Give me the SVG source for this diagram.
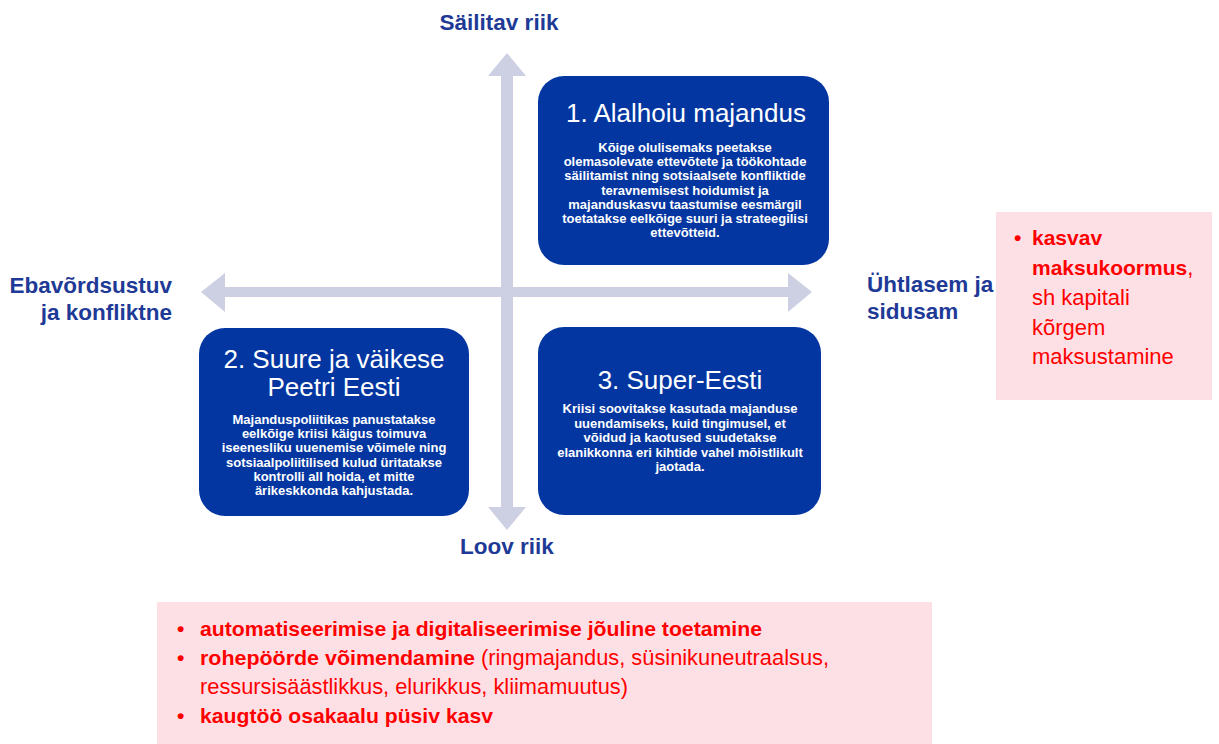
<svg xmlns="http://www.w3.org/2000/svg" width="1219" height="744" viewBox="0 0 1219 744">
<style>
.box{fill:#0336A1}
.arr{fill:#CDCFE2}
.title{font-family:"Liberation Sans",Arial,sans-serif;font-size:26px;fill:#FFFFFF;text-anchor:middle}
.body{font-family:"Liberation Sans",Arial,sans-serif;font-size:13px;font-weight:bold;fill:#FFFFFF;text-anchor:middle}
.axis{font-family:"Liberation Sans",Arial,sans-serif;font-size:22.5px;font-weight:bold;fill:#1E3A96}
.pink{fill:#FDE0E6}
.rb{font-family:"Liberation Sans",Arial,sans-serif;font-size:21px;font-weight:bold;fill:#FF0000}
.rr{font-family:"Liberation Sans",Arial,sans-serif;font-size:22px;fill:#FF0000}
</style>
<rect width="1219" height="744" fill="#FFFFFF"/>
<g id="connectors">
<polygon class="arr" points="507,53 526,76 513,76 513,507 526,507 507,530 488,507 501,507 501,76 488,76"/>
<polygon class="arr" points="201,292 225,273 225,287 788,287 788,273 812,292 788,312 788,297 225,297 225,312"/>
</g>
<g id="label-top"><text class="axis" x="499" y="30" text-anchor="middle">Säilitav riik</text></g>
<g id="label-bottom"><text class="axis" x="507" y="554" text-anchor="middle">Loov riik</text></g>
<g id="label-left">
<text class="axis" x="172" y="293" text-anchor="end">Ebavõrdsustuv</text>
<text class="axis" x="172" y="320" text-anchor="end">ja konfliktne</text>
</g>
<g id="label-right">
<text class="axis" x="867" y="292">Ühtlasem ja</text>
<text class="axis" x="867" y="319">sidusam</text>
</g>
<g id="node1">
<rect class="box" x="538" y="76" width="291" height="189" rx="26"/>
<text class="title" x="686" y="122">1. Alalhoiu majandus</text>
<text class="body" x="685" y="152">Kõige olulisemaks peetakse</text>
<text class="body" x="685" y="166.2">olemasolevate ettevõtete ja töökohtade</text>
<text class="body" x="685" y="180.4">säilitamist ning sotsiaalsete konfliktide</text>
<text class="body" x="685" y="194.6">teravnemisest hoidumist ja</text>
<text class="body" x="685" y="208.8">majanduskasvu taastumise eesmärgil</text>
<text class="body" x="685" y="223">toetatakse eelkõige suuri ja strateegilisi</text>
<text class="body" x="685" y="237.2">ettevõtteid.</text>
</g>
<g id="node2">
<rect class="box" x="199" y="328" width="270" height="188" rx="26"/>
<text class="title" x="334" y="368">2. Suure ja väikese</text>
<text class="title" x="334" y="396">Peetri Eesti</text>
<text class="body" x="334" y="424">Majanduspoliitikas panustatakse</text>
<text class="body" x="334" y="438.2">eelkõige kriisi käigus toimuva</text>
<text class="body" x="334" y="452.4">iseenesliku uuenemise võimele ning</text>
<text class="body" x="334" y="466.6">sotsiaalpoliitilised kulud üritatakse</text>
<text class="body" x="334" y="480.8">kontrolli all hoida, et mitte</text>
<text class="body" x="334" y="495">ärikeskkonda kahjustada.</text>
</g>
<g id="node3">
<rect class="box" x="538" y="327" width="283" height="188" rx="26"/>
<text class="title" x="680" y="389">3. Super-Eesti</text>
<text class="body" x="680" y="413">Kriisi soovitakse kasutada majanduse</text>
<text class="body" x="680" y="427.5">uuendamiseks, kuid tingimusel, et</text>
<text class="body" x="680" y="442">võidud ja kaotused suudetakse</text>
<text class="body" x="680" y="456.5">elanikkonna eri kihtide vahel mõistlikult</text>
<text class="body" x="680" y="471">jaotada.</text>
</g>
<g id="note-right">
<rect class="pink" x="996" y="212" width="216" height="188"/>
<text class="rb" x="1014" y="245">•</text>
<text class="rb" x="1032" y="245">kasvav</text>
<text class="rb" x="1032" y="275">maksukoormus<tspan class="rr" font-weight="normal">,</tspan></text>
<text class="rr" x="1032" y="305">sh kapitali</text>
<text class="rr" x="1032" y="335">kõrgem</text>
<text class="rr" x="1032" y="364">maksustamine</text>
</g>
<g id="note-bottom">
<rect class="pink" x="157" y="602" width="775" height="142"/>
<text class="rb" x="177" y="636">•</text>
<text class="rb" x="200" y="636" textLength="562" lengthAdjust="spacingAndGlyphs">automatiseerimise ja digitaliseerimise jõuline toetamine</text>
<text class="rb" x="177" y="665">•</text>
<text class="rb" x="200" y="665" textLength="275" lengthAdjust="spacingAndGlyphs">rohepöörde võimendamine</text>
<text class="rr" x="481" y="665" textLength="348" lengthAdjust="spacingAndGlyphs">(ringmajandus, süsinikuneutraalsus,</text>
<text class="rr" x="200" y="694" textLength="428" lengthAdjust="spacingAndGlyphs">ressursisäästlikkus, elurikkus, kliimamuutus)</text>
<text class="rb" x="177" y="723">•</text>
<text class="rb" x="200" y="723" textLength="293" lengthAdjust="spacingAndGlyphs">kaugtöö osakaalu püsiv kasv</text>
</g>
</svg>
